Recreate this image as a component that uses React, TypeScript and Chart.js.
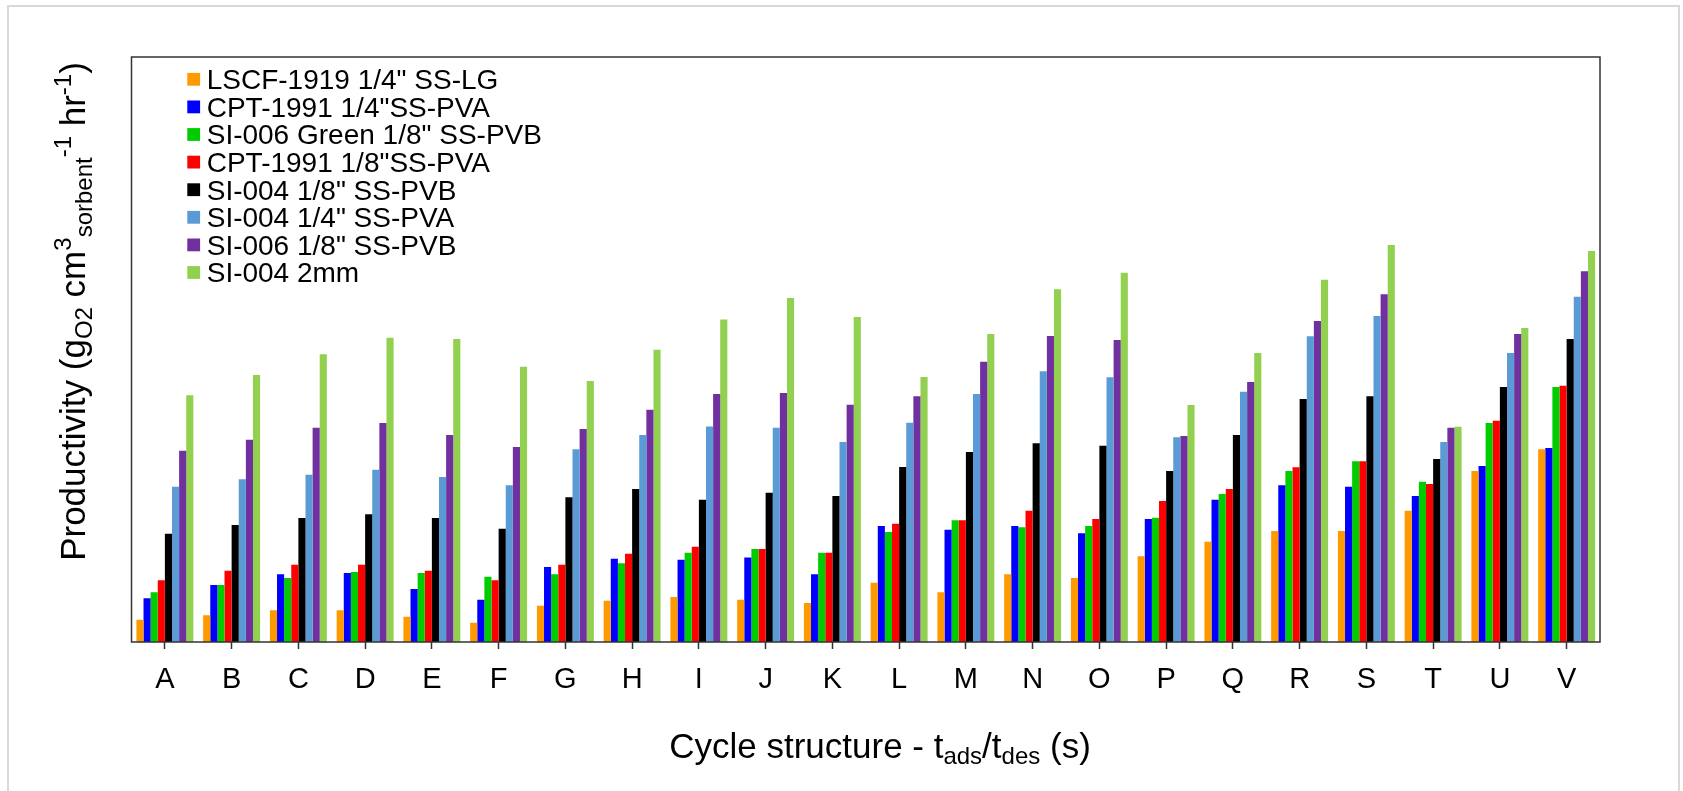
import React, { useEffect, useRef } from 'react';
import { Chart, registerables } from 'chart.js';

Chart.register(...registerables);

const categories = ['A', 'B', 'C', 'D', 'E', 'F', 'G', 'H', 'I', 'J', 'K', 'L', 'M', 'N', 'O', 'P', 'Q', 'R', 'S', 'T', 'U', 'V'];

const seriesLabels = [
  'LSCF-1919 1/4" SS-LG',
  'CPT-1991 1/4"SS-PVA',
  'SI-006 Green 1/8" SS-PVB',
  'CPT-1991 1/8"SS-PVA',
  'SI-004 1/8" SS-PVB',
  'SI-004 1/4" SS-PVA',
  'SI-006 1/8" SS-PVB',
  'SI-004 2mm',
];

const seriesColors = ['#FF9900', '#0000FF', '#00CC00', '#FF0000', '#000000', '#5B9BD5', '#7030A0', '#92D050'];

// Values (arbitrary units, no y tick labels in the original)
const lscf1919Quarter = [22.3, 26.7, 31.7, 31.7, 25.3, 19.3, 36.3, 41.3, 45, 42.3, 39, 59.3, 49.7, 67.7, 64, 85.7, 100.3, 111, 111, 131.3, 171, 192.7];
const cpt1991Quarter = [43.7, 57, 67.7, 69, 53, 42.3, 75, 83.3, 82.3, 84.5, 67.7, 116, 112.3, 116, 108.7, 123, 142.3, 156.7, 155.3, 146, 176, 194];
const si006GreenEighth = [49.7, 57, 64, 70, 69, 65.3, 67.7, 78.7, 89.3, 93, 89.3, 110, 121.7, 114.7, 116, 124.3, 148, 171, 180.7, 160.3, 219, 255];
const cpt1991Eighth = [61.7, 71.3, 77.3, 77.3, 71.3, 61.7, 77.3, 88.3, 95.3, 93, 89.3, 118.3, 121.7, 131.3, 123, 141, 153, 174.7, 180.7, 158, 221.3, 256.3];
const si004Eighth = [108.3, 117, 124, 127.7, 124, 113.3, 144.7, 153, 142.3, 149.3, 146, 175, 190, 198.7, 196.3, 171, 207, 243, 245.7, 183, 255, 303];
const si004Quarter = [155.3, 162.7, 167.3, 172.3, 165, 156.7, 192.7, 207, 215.5, 214.3, 200, 219.3, 248, 270.7, 264.7, 204.7, 250.3, 305.7, 326, 200, 289, 345.3];
const si006Eighth = [191.3, 202.3, 214.3, 219, 207, 195, 213, 232.3, 248, 249, 237.3, 245.7, 280.3, 306, 302, 206, 260, 321, 347.7, 214.3, 308, 370.7];
const si004TwoMm = [246.7, 267, 287.7, 304.3, 303, 275.3, 261, 292.3, 322.5, 344, 325, 265, 308, 352.7, 369.3, 237, 289, 362.3, 397, 215.3, 314, 391];

const seriesValues = [lscf1919Quarter, cpt1991Quarter, si006GreenEighth, cpt1991Eighth, si004Eighth, si004Quarter, si006Eighth, si004TwoMm];

const yMax = 585;

const FONT = '"Liberation Sans", Arial, Helvetica, sans-serif';

type Seg = { t: string; size: number; dy: number };

function drawRich(ctx: CanvasRenderingContext2D, segs: Seg[], cx: number, baseY: number) {
  let total = 0;
  const widths = segs.map((s) => {
    ctx.font = `${s.size}px ${FONT}`;
    const w = ctx.measureText(s.t).width;
    total += w;
    return w;
  });
  let x = cx - total / 2;
  ctx.textAlign = 'left';
  ctx.textBaseline = 'alphabetic';
  segs.forEach((s, i) => {
    ctx.font = `${s.size}px ${FONT}`;
    ctx.fillText(s.t, x, baseY + s.dy);
    x += widths[i];
  });
}

const decorPlugin = {
  id: 'decor',
  beforeDraw(chart: any) {
    const ctx = chart.ctx as CanvasRenderingContext2D;
    ctx.save();
    ctx.fillStyle = '#ffffff';
    ctx.fillRect(0, 0, chart.width, chart.height);
    ctx.restore();
  },
  afterDraw(chart: any) {
    const ctx = chart.ctx as CanvasRenderingContext2D;
    const a = chart.chartArea;
    ctx.save();

    // outer light frame
    ctx.strokeStyle = '#d9d9d9';
    ctx.lineWidth = 2;
    ctx.strokeRect(8, 6, 1671, 820);

    // plot box
    ctx.strokeStyle = '#333333';
    ctx.lineWidth = 1.5;
    ctx.strokeRect(a.left, a.top, a.right - a.left, a.bottom - a.top);

    // legend
    const ds = chart.data.datasets;
    ctx.textAlign = 'left';
    ctx.textBaseline = 'alphabetic';
    ctx.font = `28px ${FONT}`;
    ds.forEach((d: any, i: number) => {
      const cy = 79.3 + i * 27.6;
      ctx.fillStyle = d.backgroundColor;
      ctx.fillRect(187.3, cy - 6.4, 12.8, 12.8);
      ctx.fillStyle = '#000000';
      ctx.fillText(d.label, 206.7, cy + 9.8);
    });

    ctx.fillStyle = '#000000';
    // x title
    drawRich(
      ctx,
      [
        { t: 'Cycle structure - t', size: 35, dy: 0 },
        { t: 'ads', size: 24, dy: 6.5 },
        { t: '/t', size: 35, dy: 0 },
        { t: 'des', size: 24, dy: 6.5 },
        { t: ' (s)', size: 35, dy: 0 },
      ],
      880,
      757.7
    );

    // y title
    ctx.save();
    ctx.translate(85, 311.5);
    ctx.rotate(-Math.PI / 2);
    drawRich(
      ctx,
      [
        { t: 'Productivity (g', size: 35, dy: 0 },
        { t: 'O2', size: 24, dy: 6.5 },
        { t: ' cm', size: 35, dy: 0 },
        { t: '3', size: 24, dy: -14 },
        { t: 'sorbent', size: 24, dy: 6.5 },
        { t: '-1', size: 24, dy: -14 },
        { t: ' hr', size: 35, dy: 0 },
        { t: '-1', size: 24, dy: -14 },
        { t: ')', size: 35, dy: 0 },
      ],
      0,
      0
    );
    ctx.restore();

    ctx.restore();
  },
};

export default function App() {
  const canvasRef = useRef<HTMLCanvasElement | null>(null);

  useEffect(() => {
    const canvas = canvasRef.current;
    if (!canvas) return;
    const chart = new Chart(canvas, {
      type: 'bar',
      data: {
        labels: categories,
        datasets: seriesValues.map((vals, i) => ({
          label: seriesLabels[i],
          data: vals,
          backgroundColor: seriesColors[i],
          borderWidth: 0,
          categoryPercentage: 0.853,
          barPercentage: 1.0,
        })),
      },
      options: {
        responsive: false,
        animation: false,
        devicePixelRatio: 1,
        layout: { padding: { top: 57, right: 83, left: 0, bottom: 0 } },
        plugins: {
          legend: { display: false },
          tooltip: { enabled: false },
          title: { display: false },
        },
        scales: {
          x: {
            type: 'category',
            offset: true,
            grid: {
              display: true,
              offset: false,
              drawOnChartArea: false,
              drawTicks: true,
              tickLength: 7,
              tickColor: '#333333',
              tickWidth: 1.5,
            },
            border: { display: false },
            ticks: {
              font: { family: FONT, size: 29 },
              color: '#000000',
              padding: 14,
              maxRotation: 0,
              autoSkip: false,
            },
            afterFit: (s: any) => {
              s.height = 149;
            },
          },
          y: {
            min: 0,
            max: yMax,
            ticks: { display: false },
            grid: { display: false },
            border: { display: false },
            afterFit: (s: any) => {
              s.width = 131.5;
            },
          },
        },
      } as any,
      plugins: [decorPlugin],
    });
    return () => chart.destroy();
  }, []);

  return (
    <div style={{ width: 1683, height: 791, overflow: 'hidden' }}>
      <style>{`html,body{margin:0;padding:0;overflow:hidden;background:#fff}`}</style>
      <canvas ref={canvasRef} width={1683} height={791} style={{ display: 'block', width: 1683, height: 791 }} />
    </div>
  );
}
